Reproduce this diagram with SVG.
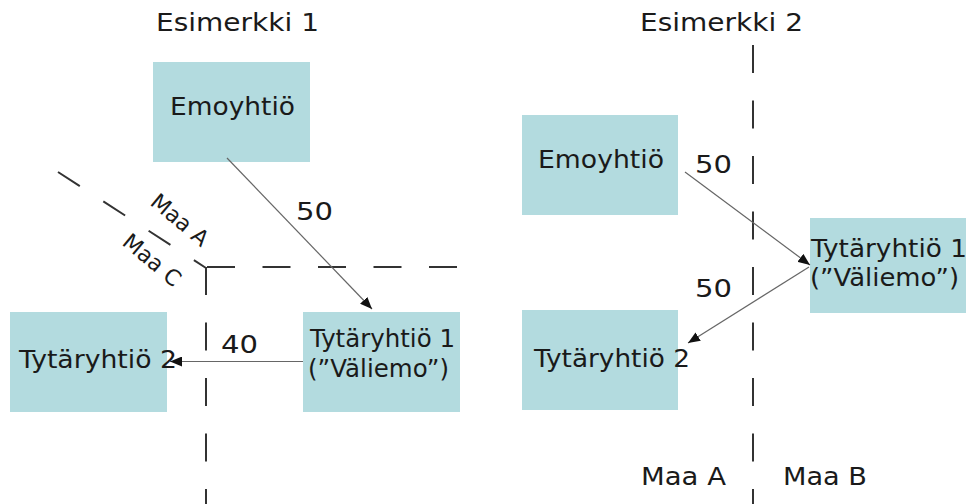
<svg xmlns="http://www.w3.org/2000/svg" width="966" height="504" viewBox="0 0 966 504">
<style>
.box{fill:#b3dbdf}
.t{font-family:"DejaVu Sans","Verdana",sans-serif;font-size:25.5px;fill:#1a1a1a}
.r{font-family:"DejaVu Sans","Verdana",sans-serif;font-size:22px;fill:#1a1a1a}
.dash{stroke:#333;stroke-width:2;fill:none;stroke-dasharray:28 27.5}
.conn{stroke:#666;stroke-width:1.2;fill:none;marker-end:url(#ah)}
</style>
<defs>
<marker id="ah" viewBox="0 0 12 10" refX="12" refY="5" markerWidth="12" markerHeight="10" markerUnits="userSpaceOnUse" orient="auto">
<path d="M0,0 L12,5 L0,10 Z" fill="#111"/>
</marker>
</defs>
<rect width="966" height="504" fill="#fff"/>

<g id="titles">
<text class="t" x="156" y="31" textLength="163" lengthAdjust="spacingAndGlyphs">Esimerkki 1</text>
<text class="t" x="640" y="31" textLength="163" lengthAdjust="spacingAndGlyphs">Esimerkki 2</text>
</g>

<g id="borders">
<line class="dash" x1="58" y1="172" x2="206" y2="268" style="stroke-dasharray:26 28"/>
<line class="dash" x1="207" y1="267" x2="460" y2="267"/>
<line class="dash" x1="206" y1="267" x2="206" y2="504"/>
<line class="dash" x1="753" y1="45" x2="753" y2="504"/>
<text class="r" transform="translate(149,204) rotate(40)">Maa A</text>
<text class="r" transform="translate(121,244) rotate(40)">Maa C</text>
<text class="t" x="641" y="485" textLength="85" lengthAdjust="spacingAndGlyphs">Maa A</text>
<text class="t" x="783" y="485" textLength="84" lengthAdjust="spacingAndGlyphs">Maa B</text>
</g>

<g id="e1-emo">
<rect class="box" x="153" y="62" width="157" height="100"/>
<text class="t" x="170" y="115" textLength="125" lengthAdjust="spacingAndGlyphs">Emoyhtiö</text>
</g>
<g id="e1-tyt1">
<rect class="box" x="303" y="312" width="157" height="100"/>
<text class="t" x="310" y="347" textLength="145" lengthAdjust="spacingAndGlyphs">Tytäryhtiö 1</text>
<text class="t" x="308" y="377" textLength="141" lengthAdjust="spacingAndGlyphs">(”Väliemo”)</text>
</g>
<g id="e1-tyt2">
<rect class="box" x="10" y="312" width="157" height="100"/>
<text class="t" x="19" y="368" textLength="158" lengthAdjust="spacingAndGlyphs">Tytäryhtiö 2</text>
</g>

<g id="e2-emo">
<rect class="box" x="522" y="115" width="156" height="100"/>
<text class="t" x="538" y="168" textLength="126" lengthAdjust="spacingAndGlyphs">Emoyhtiö</text>
</g>
<g id="e2-tyt1">
<rect class="box" x="810" y="218" width="157" height="95"/>
<text class="t" x="811" y="257" textLength="156" lengthAdjust="spacingAndGlyphs">Tytäryhtiö 1</text>
<text class="t" x="810" y="286" textLength="149" lengthAdjust="spacingAndGlyphs">(”Väliemo”)</text>
</g>
<g id="e2-tyt2">
<rect class="box" x="522" y="310" width="156" height="100"/>
<text class="t" x="534" y="367" textLength="156" lengthAdjust="spacingAndGlyphs">Tytäryhtiö 2</text>
</g>

<g id="connectors">
<line class="conn" x1="227" y1="158" x2="372" y2="309"/>
<text class="t" x="296" y="220" textLength="37" lengthAdjust="spacingAndGlyphs">50</text>
<line class="conn" x1="303" y1="361.5" x2="170" y2="361.5"/>
<text class="t" x="221" y="353" textLength="37" lengthAdjust="spacingAndGlyphs">40</text>
<line class="conn" x1="685" y1="172" x2="810" y2="265"/>
<text class="t" x="695" y="173" textLength="37" lengthAdjust="spacingAndGlyphs">50</text>
<line class="conn" x1="809" y1="267" x2="688" y2="343"/>
<text class="t" x="695" y="297" textLength="37" lengthAdjust="spacingAndGlyphs">50</text>
</g>
</svg>
